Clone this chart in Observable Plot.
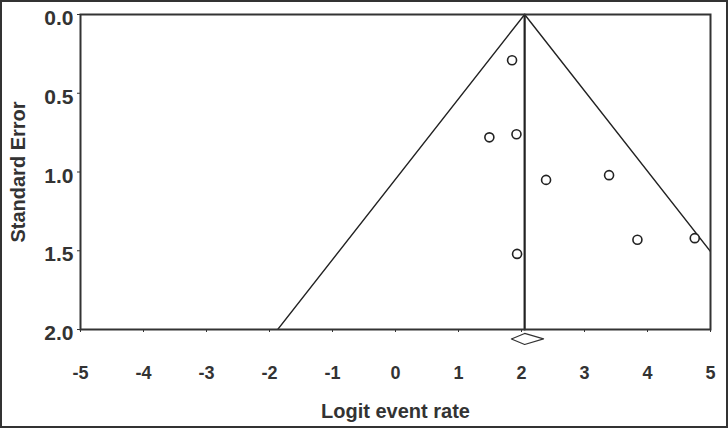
<!DOCTYPE html>
<html>
<head>
<meta charset="utf-8">
<script src="https://cdn.jsdelivr.net/npm/d3@7"></script>
<script src="https://cdn.jsdelivr.net/npm/@observablehq/plot@0.6"></script>
<style>
  html, body { margin: 0; padding: 0; background: #fff; }
  svg { display: block; outline: 2px solid #333; outline-offset: -2px; }
</style>
</head>
<body>
<div id="chart"></div>
<script>
// Study estimates (logit event rate) and their standard errors
const studyLogit = [1.85, 1.49, 1.92, 2.39, 3.39, 1.93, 3.84, 4.75];
const studySE    = [0.29, 0.78, 0.76, 1.05, 1.02, 1.52, 1.43, 1.42];

// Pooled estimate and its confidence interval (summary diamond)
const pooled = 2.05;
const pooledLow = 1.84;
const pooledHigh = 2.35;
const diamondSE = 2.06;      // vertical placement of diamond, just below the axis
const diamondHalf = 0.035;

// Funnel (95% pseudo confidence limits)
const funnelSE = [0, 2];
const z = 1.96;

const xTicks = [-5, -4, -3, -2, -1, 0, 1, 2, 3, 4, 5];
const yTicks = [0, 0.5, 1, 1.5, 2];

const studies = studyLogit.map((x, i) => ({x, se: studySE[i]}));
const leftLine = funnelSE.map(se => ({x: pooled - z * se, se}));
const rightLine = funnelSE.map(se => ({x: pooled + z * se, se}));
const meanLine = funnelSE.map(se => ({x: pooled, se}));
const diamond = [
  {x: pooledLow, se: diamondSE},
  {x: pooled, se: diamondSE - diamondHalf},
  {x: pooledHigh, se: diamondSE},
  {x: pooled, se: diamondSE + diamondHalf},
  {x: pooledLow, se: diamondSE}
];

const chart = Plot.plot({
  width: 728,
  height: 428,
  marginLeft: 80,
  marginRight: 18,
  marginTop: 14,
  marginBottom: 99,
  style: {
    fontFamily: "'Liberation Sans', Arial, sans-serif",
    fontSize: "18px",
    fontWeight: "bold",
    color: "#333",
    background: "#fff"
  },
  x: {domain: [-5, 5]},
  y: {domain: [0, 2], reverse: true},
  marks: [
    Plot.line(leftLine, {x: "x", y: "se", stroke: "#222", strokeWidth: 1.4, clip: true}),
    Plot.line(rightLine, {x: "x", y: "se", stroke: "#222", strokeWidth: 1.4, clip: true}),
    Plot.line(meanLine, {x: "x", y: "se", stroke: "#222", strokeWidth: 2.2}),
    Plot.line(diamond, {x: "x", y: "se", stroke: "#333", strokeWidth: 1.2}),
    Plot.dot(studies, {x: "x", y: "se", r: 4.5, stroke: "#222", strokeWidth: 1.6, fill: "#fff"}),
    Plot.frame({stroke: "#333", strokeWidth: 2}),
    Plot.axisX({
      ticks: xTicks, tickSize: 3, tickPadding: 34, tickFormat: d => String(d),
      fontSize: 18, fontWeight: "bold", label: null
    }),
    Plot.axisX({
      ticks: [], tickSize: 0,
      label: "Logit event rate", labelAnchor: "center", labelArrow: "none", labelOffset: 88,
      fontSize: 20, fontWeight: "bold"
    }),
    Plot.axisY({
      ticks: yTicks, tickSize: 3, tickFormat: () => "", label: null
    }),
    Plot.axisY({
      ticks: yTicks, tickSize: 0, tickPadding: 7, tickFormat: d3.format(".1f"),
      dy: 4, fontSize: 21, fontWeight: "bold", label: null
    }),
    Plot.axisY({
      ticks: [], tickSize: 0,
      label: "Standard Error", labelAnchor: "center", labelArrow: "none", labelOffset: 70,
      fontSize: 20, fontWeight: "bold"
    })
  ]
});
document.getElementById("chart").append(chart);
</script>
</body>
</html>
